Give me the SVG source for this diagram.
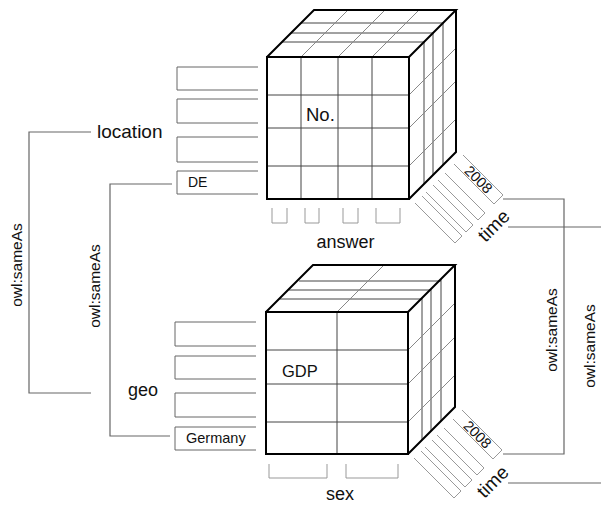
<svg xmlns="http://www.w3.org/2000/svg" width="601" height="505" viewBox="0 0 601 505">
<style>
  text { font-family: "Liberation Sans", Arial, sans-serif; fill: #111; }
  .edge { fill: none; stroke: #000; stroke-width: 2; stroke-linejoin: miter; }
  .grid { fill: none; stroke: #444; stroke-width: 1; }
  .diag { fill: none; stroke: #888; stroke-width: 1; }
  .box { fill: none; stroke: #666; stroke-width: 1; }
  .brk { fill: none; stroke: #999; stroke-width: 1; }
  .conn { fill: none; stroke: #666; stroke-width: 1.2; }
  .lbl { font-size: 18px; }
  .small { font-size: 14px; }
  .yr { font-size: 14.5px; text-anchor: middle; }
  .same { font-size: 15.5px; text-anchor: middle; }
</style>
<rect width="601" height="505" fill="#fff"/>

<g id="connectors">
  <polyline class="conn" points="91,132 29,132 29,393 91,393"/>
  <polyline class="conn" points="172,184 110,184 110,436 170,436"/>
  <polyline class="conn" points="503,199 564,199 564,454 503,454"/>
  <line class="conn" x1="508" y1="227" x2="601" y2="227"/>
  <line class="conn" x1="508" y1="483" x2="601" y2="483"/>
  <text class="same" transform="translate(22,265) rotate(-90)">owl:sameAs</text>
  <text class="same" transform="translate(100,286) rotate(-90)">owl:sameAs</text>
  <text class="same" transform="translate(557,330) rotate(-90)">owl:sameAs</text>
  <text class="same" transform="translate(595,346) rotate(-90)">owl:sameAs</text>
</g>

<g id="cube-no">
  <path class="grid" d="M301 57V199M338 57V199M372 57V199M267 95H409M267 128H409M267 166H409M282 42H424M291 33H433M301 23H443M424 42V184M433 33V175M443 23V165"/>
  <path class="diag" d="M301 57L348 10M338 57L385 10M372 57L419 10M409 95L456 48M409 128L456 81M409 166L456 119"/>
  <path class="edge" d="M267 57H409V199H267ZM267 57L314 10H456L409 57M456 10V152L409 199"/>
  <text x="306" y="121" font-size="18.5">No.</text>
</g>

<g id="dim-location">
  <path class="box" d="M258 67H177V90H258M258 99H177V123H258M258 137H177V162H258M258 171H177V194H258"/>
  <text x="188" y="187" class="small">DE</text>
  <text x="97" y="138" font-size="19">location</text>
</g>

<g id="dim-answer">
  <path class="brk" d="M272 208V223H287V208M305 208V223H319V208M343 208V223H358V208M376 208V223H400V208"/>
  <text x="345.5" y="248" class="lbl" text-anchor="middle">answer</text>
</g>

<g id="dim-time-1">
  <path class="brk" d="M415 203L455 243L462 236L422 196M426 192L466 232L473 225L433 185M438 180L478 220L485 213L445 173M454 164L494 204L503 195L463 155"/>
  <text transform="translate(478.5,179.5) rotate(45)" y="5" class="yr">2008</text>
  <text transform="translate(494,226) rotate(-45)" y="6" font-size="19" text-anchor="middle">time</text>
</g>

<g id="cube-gdp">
  <path class="grid" d="M337 312V454M266 350H408M266 384H408M266 422H408M280 299H422M289 290H431M299 281H441M422 298V440M431 289V431M441 279V421"/>
  <path class="diag" d="M337 312L384 265M408 350L455 303M408 384L455 337M408 422L455 375"/>
  <path class="edge" d="M266 312H408V454H266ZM266 312L313 265H455L408 312M455 265V407L408 454"/>
  <text x="282" y="377" font-size="16.5">GDP</text>
</g>

<g id="dim-geo">
  <path class="box" d="M256 322H175V346H256M256 356H175V379H256M256 393H175V417H256M256 427H175V450H256"/>
  <text x="186" y="443" font-size="14.5">Germany</text>
  <text x="128" y="396" class="lbl">geo</text>
</g>

<g id="dim-sex">
  <path class="brk" d="M269 464V478H327V464M346 464V478H398V464"/>
  <text x="340" y="500" class="lbl" text-anchor="middle">sex</text>
</g>

<g id="dim-time-2">
  <path class="brk" d="M414 458L454 498L461 491L421 451M425 447L465 487L472 480L432 440M437 435L477 475L484 468L444 428M453 419L493 459L502 450L462 410"/>
  <text transform="translate(477.5,434.5) rotate(45)" y="5" class="yr">2008</text>
  <text transform="translate(493,482) rotate(-45)" y="6" font-size="19" text-anchor="middle">time</text>
</g>
</svg>
